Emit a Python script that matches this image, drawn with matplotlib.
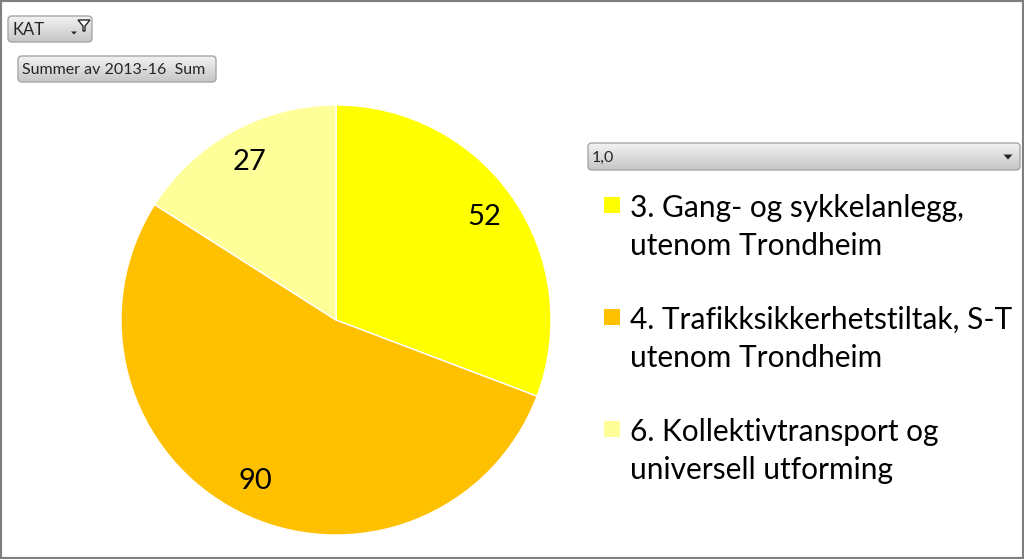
import matplotlib
matplotlib.use("Agg")
import matplotlib.pyplot as plt
import numpy as np
from matplotlib.patches import FancyBboxPatch, Rectangle, Polygon
from matplotlib.colors import LinearSegmentedColormap
from matplotlib.transforms import IdentityTransform

# data
categories = [
    "3. Gang- og sykkelanlegg,\nutenom Trondheim",
    "4. Trafikksikkerhetstiltak, S-T\nutenom Trondheim",
    "6. Kollektivtransport og\nuniversell utforming",
]
values = [52, 90, 27]
colors = ["#FFFF00", "#FFC000", "#FFFF99"]
filter_label = "KAT"
field_label = "Summer av 2013-16  Sum"
series_label = "1,0"

W, H = 1024, 559
FONT = "Lato"
plt.rcParams["font.family"] = [FONT, "DejaVu Sans"]

fig = plt.figure(figsize=(W / 100, H / 100), dpi=100)
fig.patch.set_facecolor("white")


def px(x, y):
    """pixel (from top-left) -> figure fraction"""
    return x / W, 1 - y / H


# pie
cx, cy, r = 336, 320, 215
ax = fig.add_axes([(cx - r) / W, (H - cy - r) / H, 2 * r / W, 2 * r / H])
total = sum(values)
wedges, texts, autotexts = ax.pie(
    values,
    colors=colors,
    startangle=90,
    counterclock=False,
    autopct=lambda p: f"{p * total / 100:.0f}",
    pctdistance=0.84,
    wedgeprops=dict(edgecolor="white", linewidth=1),
    textprops=dict(fontsize=21, color="black", family=FONT),
)
ax.set_aspect("auto")
ax.set_xlim(-1, 1)
ax.set_ylim(-1, 1)

grad = LinearSegmentedColormap.from_list("btn", ["#C6C6C6", "#F2F2F2"])


# pivot-chart buttons (gray gradient, rounded) -- drawn in pixel space
def button(x0, y0, x1, y1, label, fs=11.5):
    bax = fig.add_axes([x0 / W, 1 - y1 / H, (x1 - x0) / W, (y1 - y0) / H])
    bax.set_axis_off()
    shape = FancyBboxPatch((x0, H - y1), x1 - x0, y1 - y0,
                           boxstyle="round,pad=0,rounding_size=4",
                           transform=IdentityTransform(), facecolor="none",
                           edgecolor="#A6A6A6", linewidth=1)
    im = bax.imshow(np.linspace(0, 1, 50).reshape(-1, 1), cmap=grad, aspect="auto",
                    extent=(0, 1, 0, 1), origin="lower")
    im.set_clip_path(shape)
    bax.set_xlim(0, 1)
    bax.set_ylim(0, 1)
    fig.patches.append(shape)
    tx, ty = px(x0 + 4, (y0 + y1) / 2 + 1)
    fig.text(tx, ty, label, fontsize=fs, color="#262626", va="center", ha="left")


button(8, 16, 92, 42, filter_label, fs=12)
button(18, 56, 216, 82, field_label)
button(588, 143, 1020, 170, series_label)


# dropdown arrows / filter icon
def tri(xc, yc, w, h):
    pts = [px(xc - w / 2, yc - h / 2), px(xc + w / 2, yc - h / 2), px(xc, yc + h / 2)]
    fig.patches.append(Polygon(pts, closed=True, transform=fig.transFigure,
                               facecolor="#262626", edgecolor="none"))


tri(74, 33, 6, 3)
tri(1008, 157, 9, 5)
funnel = [px(78, 20), px(90, 20), px(85, 26), px(85, 31), px(83, 31), px(83, 26)]
fig.patches.append(Polygon(funnel, closed=True, transform=fig.transFigure,
                           facecolor="white", edgecolor="#262626", linewidth=1))

# legend
legend_rows = [197, 309, 421]
for top, label, col in zip(legend_rows, categories, colors):
    fx0, fy1 = px(604, top)
    fx1, fy0 = px(620, top + 16)
    fig.patches.append(Rectangle((fx0, fy0), fx1 - fx0, fy1 - fy0,
                                 transform=fig.transFigure, facecolor=col,
                                 edgecolor="none"))
    for i, line in enumerate(label.split("\n")):
        fig.text(*px(630, top + 20 + i * 38), line, fontsize=21.5,
                 va="baseline", ha="left", color="black")

# outer frame
fig.patches.append(Rectangle((0, 0), 1, 1, transform=fig.transFigure,
                             facecolor="none", edgecolor="#7F7F7F", linewidth=3))

fig.savefig("out.png", dpi=100)
